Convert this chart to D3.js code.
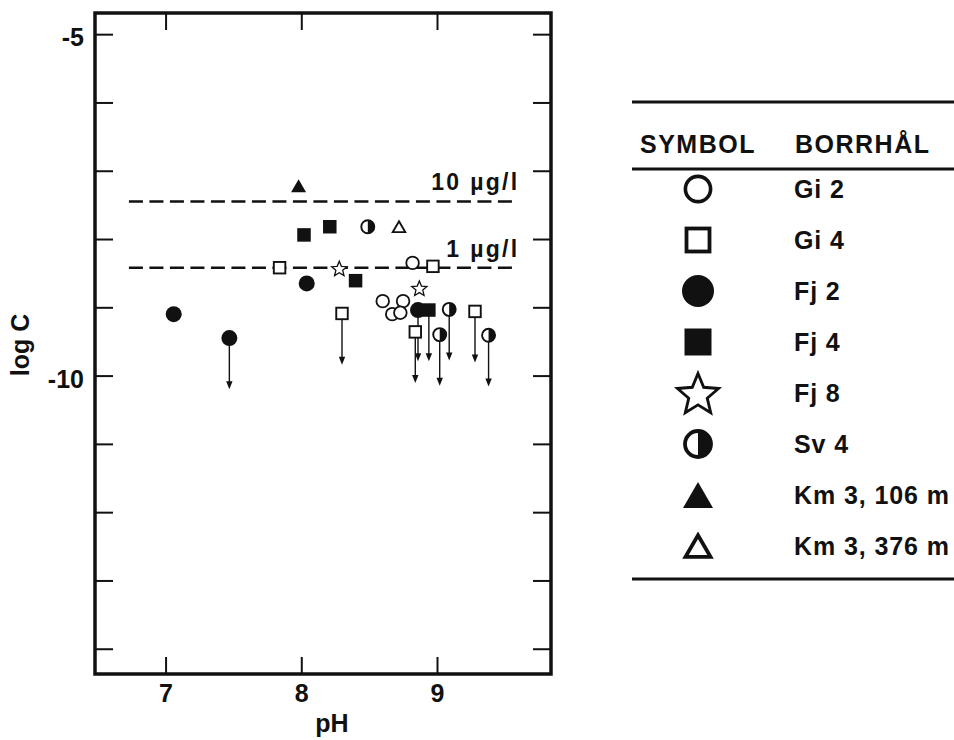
<!DOCTYPE html>
<html>
<head>
<meta charset="utf-8">
<script src="https://cdn.jsdelivr.net/npm/d3@7"></script>
<style>
  body { margin: 0; background: #fff; }
  text { font-family: "Liberation Sans", Arial, Helvetica, sans-serif; font-weight: bold; fill: #111; }
</style>
</head>
<body>
<script>
// Data
const boreholes = ["Gi 2", "Gi 4", "Fj 2", "Fj 4", "Fj 8", "Sv 4", "Km 3, 106 m", "Km 3, 376 m"];
const symbolTypes = ["openCircle", "openSquare", "filledCircle", "filledSquare", "openStar", "halfCircle", "filledTriangle", "openTriangle"];

// [pH, log C, below detection limit (1 = arrow)]
const gi2 = [[8.82, -8.35, 0], [8.60, -8.91, 0], [8.75, -8.91, 0], [8.67, -9.10, 0], [8.73, -9.08, 0]];
const gi4 = [[7.84, -8.42, 0], [8.97, -8.40, 0], [8.30, -9.09, 1], [8.84, -9.36, 1], [9.28, -9.06, 1]];
const fj2 = [[7.06, -9.10, 0], [7.47, -9.45, 1], [8.04, -8.65, 0], [8.86, -9.04, 1]];
const fj4 = [[8.02, -7.94, 0], [8.21, -7.82, 0], [8.40, -8.61, 0], [8.94, -9.04, 1]];
const fj8 = [[8.28, -8.43, 0], [8.87, -8.72, 0]];
const sv4 = [[8.49, -7.82, 0], [9.09, -9.03, 1], [9.02, -9.40, 1], [9.38, -9.41, 1]];
const km3_106 = [[7.98, -7.22, 0]];
const km3_376 = [[8.72, -7.82, 0]];
const seriesData = [gi2, gi4, fj2, fj4, fj8, sv4, km3_106, km3_376];

const xTicks = [7, 8, 9];
const yTicks = [-14, -13, -12, -11, -10, -9, -8, -7, -6, -5];
const yLabelled = [-5, -10];
const refLabels = ["10 µg/l", "1 µg/l"];
const refValues = [-7.45, -8.42];
const refExtent = [6.73, 9.6];
const arrowLength = 0.75; // in log C units

// Helpers
const ink = "#111";

function drawMarker(g, type, k) {
    // k = scale (1 in plot, ~2 in legend)
    if (type === "openCircle") {
        g.append("circle").attr("r", 6.3 * k).attr("fill", "#fff")
            .attr("stroke", ink).attr("stroke-width", 1.8 * k);
    } else if (type === "filledCircle") {
        g.append("circle").attr("r", 8 * k).attr("fill", ink);
    } else if (type === "openSquare") {
        const s = 11.5 * k;
        g.append("rect").attr("x", -s / 2).attr("y", -s / 2).attr("width", s).attr("height", s)
            .attr("fill", "#fff").attr("stroke", ink).attr("stroke-width", 1.9 * k);
    } else if (type === "filledSquare") {
        const s = 13.5 * k;
        g.append("rect").attr("x", -s / 2).attr("y", -s / 2).attr("width", s).attr("height", s)
            .attr("fill", ink);
    } else if (type === "openStar") {
        const R = 8 * k, r = R * 0.45;
        const pts = d3.range(10).map(i => {
            const a = -Math.PI / 2 + i * Math.PI / 5;
            const rr = i % 2 === 0 ? R : r;
            return [rr * Math.cos(a), rr * Math.sin(a) + R * 0.1];
        });
        g.append("path").attr("d", "M" + pts.join("L") + "Z")
            .attr("fill", "#fff").attr("stroke", ink).attr("stroke-width", 1.3 * Math.min(k, 2.2))
            .attr("stroke-linejoin", "miter");
    } else if (type === "halfCircle") {
        const r = 6.5 * k;
        g.append("circle").attr("r", r).attr("fill", "#fff")
            .attr("stroke", ink).attr("stroke-width", 1.9 * k);
        g.append("path").attr("d", `M0,${-r}A${r},${r} 0 0 1 0,${r}Z`).attr("fill", ink);
    } else if (type === "filledTriangle" || type === "openTriangle") {
        const filled = type === "filledTriangle";
        const s = (filled ? 15 : 12.5) * k, h = s * 0.866;
        g.append("path").attr("d", `M0,${-h / 2}L${s / 2},${h / 2}L${-s / 2},${h / 2}Z`)
            .attr("fill", filled ? ink : "#fff")
            .attr("stroke", ink).attr("stroke-width", filled ? 0 : 1.9 * k)
            .attr("stroke-linejoin", "miter");
    }
}

// Main
const width = 954, height = 740;
const svg = d3.select("body").append("svg")
    .attr("width", width)
    .attr("height", height);

const x = d3.scaleLinear().domain([6.48, 9.84]).range([95, 551]);
const y = d3.scaleLinear().domain([-14.37, -4.69]).range([674, 13]);

// axes (ticks pointing inward)
const styleAxis = g => {
    g.select(".domain").remove();
    g.selectAll(".tick line").attr("stroke", ink).attr("stroke-width", 2);
    g.selectAll(".tick text").attr("fill", ink).style("font-size", "25px")
        .style("font-family", '"Liberation Sans", Arial, sans-serif').style("font-weight", "bold");
};

svg.append("g")
    .attr("transform", `translate(${x.range()[0]},0)`)
    .call(d3.axisLeft(y).tickValues(yTicks).tickSize(-18).tickPadding(11)
        .tickFormat(d => yLabelled.includes(d) ? String(d) : ""))
    .call(styleAxis)
    .selectAll(".tick text").attr("dy", "0.46em");

svg.append("g")
    .attr("transform", `translate(${x.range()[1]},0)`)
    .call(d3.axisRight(y).tickValues(yTicks).tickSize(-18).tickFormat(""))
    .call(styleAxis);

svg.append("g")
    .attr("transform", `translate(0,${y.range()[0]})`)
    .call(d3.axisBottom(x).tickValues(xTicks).tickSize(-17).tickPadding(10).tickFormat(d3.format("d")))
    .call(styleAxis);

svg.append("g")
    .attr("transform", `translate(0,${y.range()[1]})`)
    .call(d3.axisTop(x).tickValues(xTicks).tickSize(-17).tickFormat(""))
    .call(styleAxis);

// frame
svg.append("rect")
    .attr("x", x.range()[0]).attr("y", y.range()[1])
    .attr("width", x.range()[1] - x.range()[0])
    .attr("height", y.range()[0] - y.range()[1])
    .attr("fill", "none").attr("stroke", ink).attr("stroke-width", 3.5);

// axis titles
svg.append("text")
    .attr("x", (x.range()[0] + x.range()[1]) / 2 + 9).attr("y", 732)
    .attr("text-anchor", "middle").style("font-size", "25px")
    .text("pH");
svg.append("text")
    .attr("transform", "translate(29,345) rotate(-90)")
    .attr("text-anchor", "middle").style("font-size", "25px")
    .text("log C");

// reference lines
refValues.forEach((v, i) => {
    svg.append("line")
        .attr("x1", x(refExtent[0])).attr("x2", x(refExtent[1]))
        .attr("y1", y(v)).attr("y2", y(v))
        .attr("stroke", ink).attr("stroke-width", 2.5)
        .attr("stroke-dasharray", "14,6.5");
    svg.append("text")
        .attr("x", x(refExtent[1]) + 1).attr("y", y(v) - 11)
        .attr("text-anchor", "end")
        .style("font-size", "23px").style("letter-spacing", "2.3px")
        .text(refLabels[i]);
});

// points
const plot = svg.append("g");
seriesData.forEach((pts, si) => {
    pts.filter(d => d[2]).forEach(d => {
        const px = x(d[0]), y1 = y(d[1]), y2 = y(d[1] - arrowLength);
        plot.append("line")
            .attr("x1", px).attr("x2", px).attr("y1", y1).attr("y2", y2 - 6)
            .attr("stroke", ink).attr("stroke-width", 1.4);
        plot.append("path")
            .attr("d", `M${px - 3.2},${y2 - 8}L${px + 3.2},${y2 - 8}L${px},${y2}Z`)
            .attr("fill", ink);
    });
});
seriesData.forEach((pts, si) => {
    pts.forEach(d => {
        const g = plot.append("g").attr("transform", `translate(${x(d[0])},${y(d[1])})`);
        drawMarker(g, symbolTypes[si], 1);
    });
});

// legend table
const legend = svg.append("g");
const lx0 = 632, lx1 = 954;
const headY = 153, rowY0 = 189, rowStep = 51;
[102, 169, 579].forEach(ly => {
    legend.append("line").attr("x1", lx0).attr("x2", lx1).attr("y1", ly).attr("y2", ly)
        .attr("stroke", ink).attr("stroke-width", 3);
});
legend.append("text").attr("x", 640).attr("y", headY)
    .style("font-size", "25px").style("letter-spacing", "1.5px").text("SYMBOL");
legend.append("text").attr("x", 795).attr("y", headY)
    .style("font-size", "25px").style("letter-spacing", "1.5px").text("BORRHÅL");

boreholes.forEach((name, i) => {
    const cy = rowY0 + i * rowStep;
    const g = legend.append("g").attr("transform", `translate(698,${cy})`);
    drawMarker(g, symbolTypes[i], symbolTypes[i] === "openStar" ? 2.7 : 2);
    legend.append("text").attr("x", 794).attr("y", cy + 9)
        .style("font-size", "25px").style("letter-spacing", "0.9px")
        .text(name);
});
</script>
</body>
</html>
